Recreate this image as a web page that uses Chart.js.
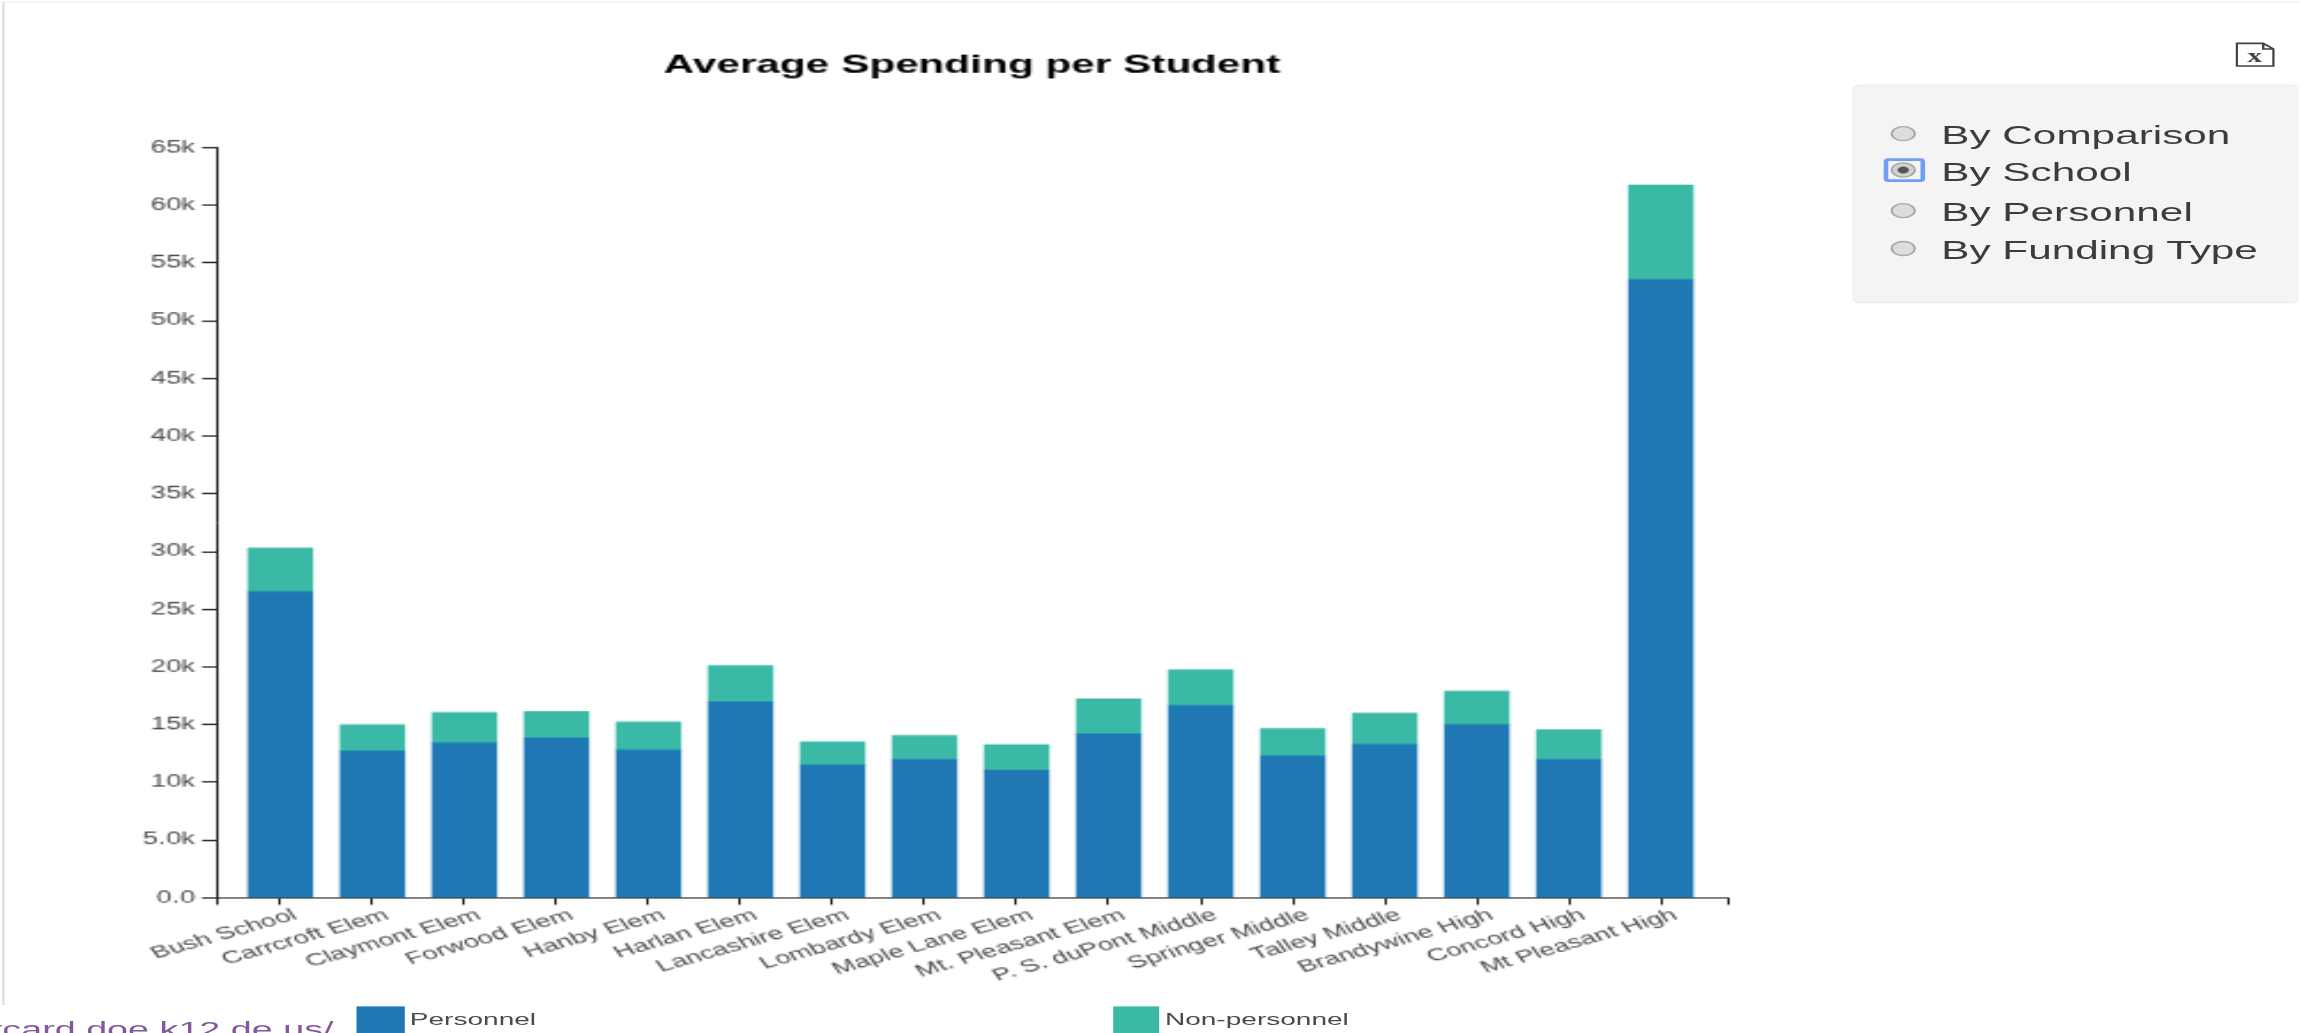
<!DOCTYPE html>
<html>
<head>
    <title>Average Spending per Student</title>
    <script src="https://cdn.jsdelivr.net/npm/chart.js"></script>
    <style>
        html, body { margin: 0; padding: 0; width: 2300px; height: 1033px; overflow: hidden; background: #fff; }
        /* the reference is a stretched screenshot, so the page is laid out small and scaled */
        #page {
            position: absolute; left: 0; top: 0; width: 1000px; height: 738px;
            transform-origin: 0 0; transform: scale(2.3, 1.3997);
            font-family: "Liberation Sans", Arial, sans-serif;
        }
        #chart { position: absolute; left: 0; top: 0; }
        #edgeLeft { position: absolute; left: 1px; top: 1px; width: 0.5px; height: 717px; background: #ddd; }
        #edgeTop { position: absolute; left: 1px; top: 1px; width: 999px; height: 1px; background: #f1f1f1; }
        #panel { position: absolute; left: 806px; top: 61px; width: 193px; height: 155px; background: #f4f4f4; border-radius: 3px; box-shadow: 0 0 1px #e4e4e4; }
        .row { position: absolute; left: 38px; height: 20px; line-height: 20px; font-size: 18.4px; color: #3c3c3c; white-space: nowrap; }
        .row input {
            position: absolute; left: -22px; top: 3px; margin: 0; width: 11px; height: 11px;
            -webkit-appearance: none; appearance: none; border-radius: 50%;
            border: 0.5px solid #aaa; background: #ddd; box-sizing: border-box;
        }
        .row input:checked { background: radial-gradient(circle, #555 0, #555 2px, #ccc 2.8px, #e2e2e2 100%); }
        #ring { position: absolute; left: 12.5px; top: 52.4px; width: 14.6px; height: 12.4px; border: 2.4px solid #6f9ef8; border-radius: 2px; }
        #legend .swatch { position: absolute; top: 719px; width: 20.4px; height: 19px; }
        #legend .name { position: absolute; top: 720.8px; height: 14px; line-height: 14px; font-size: 12.2px; color: #4a4a4a; white-space: nowrap; }
        #link { position: absolute; right: 855px; top: 724.5px; line-height: 20px; font-size: 16.4px; color: #83599b; white-space: nowrap; }
        #excel { position: absolute; left: 971.5px; top: 30px; }
    </style>
</head>
<body>
    <div id="page">
        <div id="edgeLeft"></div>
        <div id="edgeTop"></div>
        <canvas id="chart" width="1000" height="738"></canvas>
        <svg id="excel" width="17" height="18" viewBox="0 0 17 18">
            <path d="M0.5 1 H12 L16.5 5 V17.2 H0.5 Z M12 1 V5 H16.5" fill="none" stroke="#444" stroke-width="1.1"/>
            <text x="8.3" y="14.5" text-anchor="middle" font-family="Liberation Serif" font-weight="bold" font-size="13" fill="#444">x</text>
        </svg>
        <div id="panel"><div id="ring"></div></div>
        <div id="legend"></div>
        <div id="link">reportcard.doe.k12.de.us/</div>
    </div>
    <script>
        var schools = ['Bush School', 'Carrcroft Elem', 'Claymont Elem', 'Forwood Elem', 'Hanby Elem', 'Harlan Elem',
            'Lancashire Elem', 'Lombardy Elem', 'Maple Lane Elem', 'Mt. Pleasant Elem', 'P. S. duPont Middle',
            'Springer Middle', 'Talley Middle', 'Brandywine High', 'Concord High', 'Mt Pleasant High'];
        var personnel = [26500, 12700, 13400, 13850, 12800, 17000, 11500, 12000, 11050, 14200, 16650, 12300, 13300, 15000, 12000, 53550];
        var nonPersonnel = [3800, 2300, 2650, 2300, 2420, 3110, 1990, 2050, 2220, 3030, 3110, 2340, 2680, 2910, 2570, 8190];
        var yTicks = [0, 5000, 10000, 15000, 20000, 25000, 30000, 35000, 40000, 45000, 50000, 55000, 60000, 65000];
        var yTickLabels = ['0.0', '5.0k', '10k', '15k', '20k', '25k', '30k', '35k', '40k', '45k', '50k', '55k', '60k', '65k'];
        var viewOptions = ['By Comparison', 'By School', 'By Personnel', 'By Funding Type'];
        var selectedView = 'By School';

        var FONT = '"Liberation Sans", Arial, sans-serif';
        var INK = '#222';

        function toPoints(values) {
            return values.map(function(v, i) { return { x: i, y: v }; });
        }

        var chart = new Chart(document.getElementById('chart').getContext('2d'), {
            type: 'bar',
            data: {
                datasets: [
                    { label: 'Personnel', data: toPoints(personnel), backgroundColor: '#1f77b4' },
                    { label: 'Non-personnel', data: toPoints(nonPersonnel), backgroundColor: '#3abaa6' }
                ]
            },
            options: {
                responsive: false,
                animation: false,
                devicePixelRatio: 1,
                layout: { padding: { right: 249 } },
                datasets: { bar: { barThickness: 27.8, borderWidth: 0 } },
                plugins: {
                    legend: { display: false },
                    tooltip: { enabled: false },
                    title: {
                        display: true,
                        text: 'Average Spending per Student',
                        color: '#000',
                        fullSize: false,
                        font: { family: FONT, size: 18.4, weight: 'bold' },
                        padding: { top: 35.4, bottom: 48 }
                    }
                },
                scales: {
                    x: {
                        type: 'linear',
                        stacked: true,
                        offset: false,
                        // axis runs a little past the first and last bar centres
                        min: -0.689,
                        max: schools.length - 1 + 0.723,
                        bounds: 'data',
                        afterBuildTicks: function(scale) {
                            // outer ticks at both axis ends, then one tick per school
                            var ticks = [{ value: scale.min }];
                            schools.forEach(function(s, i) { ticks.push({ value: i }); });
                            ticks.push({ value: scale.max });
                            scale.ticks = ticks;
                        },
                        afterFit: function(scale) { scale.height = 96.6; },
                        grid: { offset: false, drawOnChartArea: false, tickLength: 5, color: INK, tickWidth: 1 },
                        border: { color: '#444', width: 1 },
                        ticks: {
                            autoSkip: false,
                            minRotation: 25,
                            maxRotation: 25,
                            padding: 0,
                            labelOffset: 6.5,
                            color: '#4a4a4a',
                            font: { family: FONT, size: 12.2 },
                            callback: function(value) {
                                return schools[value] === undefined ? '' : schools[value];
                            }
                        }
                    },
                    y: {
                        stacked: true,
                        min: 0,
                        max: 65000,
                        afterBuildTicks: function(scale) {
                            scale.ticks = yTicks.map(function(v) { return { value: v }; });
                        },
                        afterFit: function(scale) { scale.width = 94.3; },
                        grid: { drawOnChartArea: false, tickLength: 6.5, color: INK, tickWidth: 1 },
                        border: { color: INK, width: 1 },
                        ticks: {
                            padding: 3,
                            color: '#4a4a4a',
                            font: { family: FONT, size: 12 },
                            callback: function(value) { return yTickLabels[yTicks.indexOf(value)]; }
                        }
                    }
                }
            }
        });

        // legend sits far apart in the reference, so it is built by hand from the datasets
        var legend = document.getElementById('legend');
        var legendLeft = [155.2, 483.5];
        chart.data.datasets.forEach(function(ds, i) {
            var swatch = document.createElement('div');
            swatch.className = 'swatch';
            swatch.style.left = legendLeft[i] + 'px';
            swatch.style.background = ds.backgroundColor;
            legend.appendChild(swatch);
            var name = document.createElement('div');
            name.className = 'name';
            name.style.left = (legendLeft[i] + 23) + 'px';
            name.textContent = ds.label;
            legend.appendChild(name);
        });

        var panel = document.getElementById('panel');
        var rowTops = [25.7, 52.1, 80.7, 107.8];
        viewOptions.forEach(function(text, i) {
            var row = document.createElement('label');
            row.className = 'row';
            row.style.top = rowTops[i] + 'px';
            var input = document.createElement('input');
            input.type = 'radio';
            input.name = 'view';
            input.checked = text === selectedView;
            row.appendChild(input);
            row.appendChild(document.createTextNode(text));
            panel.appendChild(row);
        });
    </script>
</body>
</html>
